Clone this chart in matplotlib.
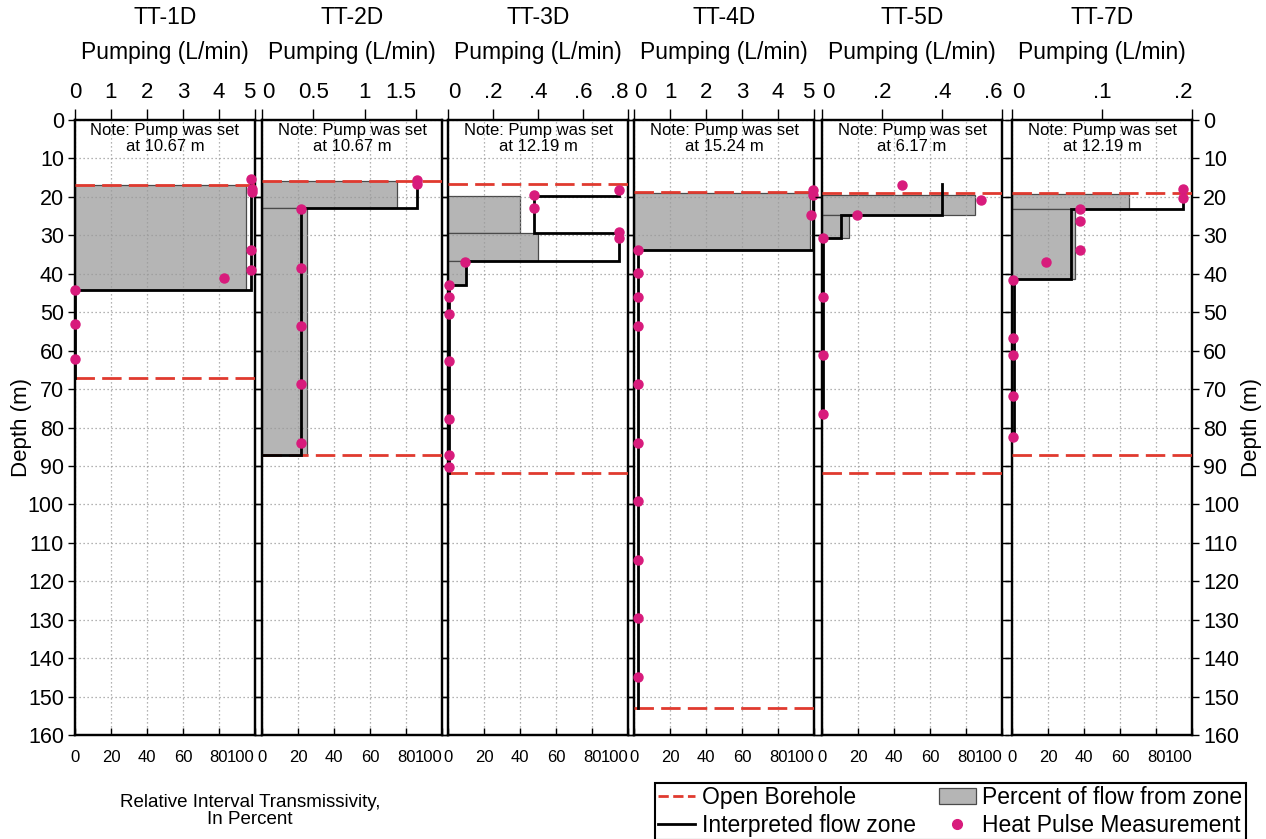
import matplotlib
matplotlib.use('Agg')
import matplotlib.pyplot as plt
import matplotlib.transforms as mtrans
from matplotlib.lines import Line2D
from matplotlib.patches import Patch

plt.rcParams['font.family'] = ['Liberation Sans', 'DejaVu Sans']

# ---------------- data ----------------
wells = ['TT-1D', 'TT-2D', 'TT-3D', 'TT-4D', 'TT-5D', 'TT-7D']
pump_set = ['10.67', '10.67', '12.19', '15.24', '6.17', '12.19']
pump_max = [5, 1.75, 0.8, 5, 0.6, 0.2]
pump_ticks = [[0, 1, 2, 3, 4, 5], [0, 0.5, 1, 1.5], [0, .2, .4, .6, .8],
              [0, 1, 2, 3, 4, 5], [0, .2, .4, .6], [0, .1, .2]]
pump_ticklabels = [['0', '1', '2', '3', '4', '5'], ['0', '0.5', '1', '1.5'],
                   ['0', '.2', '.4', '.6', '.8'], ['0', '1', '2', '3', '4', '5'],
                   ['0', '.2', '.4', '.6'], ['0', '.1', '.2']]
pct_ticks = [0, 20, 40, 60, 80, 100]
depth_ticks = list(range(0, 161, 10))

# open borehole (top, bottom) depth in m
borehole_top = [16.8, 15.8, 16.7, 18.7, 19.1, 18.9]
borehole_bottom = [67.2, 87.2, 91.8, 152.9, 91.8, 87.2]

# percent of flow from zone: tops, bottoms, percent
zone_top = [[16.8], [15.8, 23.0], [19.7, 29.3, 36.7], [19.1], [19.5, 24.7], [19.3, 23.2]]
zone_bottom = [[44.3], [23.0, 87.2], [29.3, 36.7, 43.0], [33.9], [24.7, 30.8], [23.2, 41.4]]
zone_pct = [[95], [75, 25], [40, 50, 10], [98], [85, 15], [65, 35]]

# interpreted flow zone (step line vertices), flow in L/min and depth in m
flow_q = [
    [4.88, 4.88, 0, 0],
    [1.51, 1.51, 0.38, 0.38, 0],
    [0.762, 0.762, 0.384, 0.384, 0.762, 0.762, 0.08, 0.08, 0.005, 0.005],
    [4.96, 4.96, 0.1, 0.1],
    [0.40, 0.40, 0.062, 0.062, 0.004, 0.004],
    [0.19, 0.19, 0.066, 0.066, 0.002, 0.002],
]
flow_d = [
    [15.2, 44.3, 44.3, 67.2],
    [15.2, 23.0, 23.0, 87.2, 87.2],
    [18.2, 19.7, 19.7, 29.3, 29.3, 36.7, 36.7, 43.0, 43.0, 91.8],
    [18.2, 33.9, 33.9, 152.9],
    [16.7, 24.7, 24.7, 30.8, 30.8, 76.8],
    [17.8, 23.2, 23.2, 41.4, 41.4, 82.5],
]

# heat pulse measurements: flow (L/min) and depth (m)
hp_q = [
    [4.88, 4.91, 4.91, 4.88, 4.88, 4.14, 0, 0, 0],
    [1.51, 1.51, 0.38, 0.38, 0.38, 0.38, 0.38],
    [0.762, 0.384, 0.384, 0.762, 0.762, 0.076, 0.005, 0.005, 0.005, 0.005, 0.005, 0.005, 0.005],
    [4.96, 4.96, 4.93, 0.12, 0.1, 0.1, 0.1, 0.1, 0.1, 0.1, 0.1, 0.1, 0.1],
    [0.268, 0.53, 0.116, 0.004, 0.004, 0.004, 0.004],
    [0.19, 0.19, 0.076, 0.076, 0.076, 0.038, 0.001, 0.001, 0.001, 0.001, 0.001],
]
hp_d = [
    [15.4, 18.0, 18.7, 33.7, 38.9, 41.1, 44.3, 53.2, 62.3],
    [15.5, 16.7, 23.1, 38.4, 53.6, 68.8, 84.0],
    [18.2, 19.5, 22.8, 29.1, 30.6, 36.9, 43.0, 46.0, 50.5, 62.8, 77.9, 87.1, 90.2],
    [18.2, 19.5, 24.7, 33.9, 39.9, 46.0, 53.6, 68.8, 84.0, 99.2, 114.4, 129.6, 144.8],
    [16.9, 20.7, 24.6, 30.6, 46.0, 61.2, 76.5],
    [18.0, 20.2, 23.1, 26.2, 33.9, 36.9, 41.5, 56.6, 61.2, 71.9, 82.5],
]

# ---------------- style ----------------
RED = '#e03a2f'
GREY = '#b5b5b5'
MAG = '#d81b7c'
W, H = 1266, 839
lefts = [75, 262, 448, 634, 822, 1012]
pw = 180
top_px, bot_px = 120, 735

fig = plt.figure(figsize=(W / 100, H / 100), dpi=100)
shift_r = mtrans.ScaledTranslation(2 / 100, 0, fig.dpi_scale_trans)
shift_l = mtrans.ScaledTranslation(-2 / 100, 0, fig.dpi_scale_trans)

for i in range(6):
    ax = fig.add_axes([lefts[i] / W, 1 - bot_px / H, pw / W, (bot_px - top_px) / H])
    ax.set_xlim(0, 100)
    ax.set_ylim(160, 0)
    ax.set_xticks(pct_ticks)
    ax.set_xticklabels([str(t) for t in pct_ticks], fontsize=12)
    lbls = ax.get_xticklabels()
    lbls[-1].set_ha('right')
    lbls[-1].set_transform(lbls[-1].get_transform() + shift_r)
    lbls[-2].set_transform(lbls[-2].get_transform() + shift_l)
    ax.set_yticks(depth_ticks)
    ax.tick_params(axis='x', direction='in', length=5, width=1, pad=11)
    ax.tick_params(axis='y', direction='out', length=5, width=1, left=True, right=True,
                   labelleft=(i == 0), labelright=(i == 5), labelsize=15.5, pad=3)
    ax.grid(True, linestyle=(0, (1, 2.2)), color='#9a9a9a', linewidth=0.9)
    ax.set_axisbelow(False)
    for s in ax.spines.values():
        s.set_linewidth(1.6)

    # grey percent-of-flow zones
    tops = zone_top[i]
    bots = zone_bottom[i]
    centers = [(a + b) / 2 for a, b in zip(tops, bots)]
    heights = [b - a for a, b in zip(tops, bots)]
    ax.barh(centers, zone_pct[i], height=heights, left=0, color=GREY,
            edgecolor='#4a4a4a', linewidth=0.9, zorder=1)

    ax2 = ax.twiny()
    ax2.set_xlim(0, pump_max[i])
    ax2.set_ylim(160, 0)
    ax2.set_xticks(pump_ticks[i])
    ax2.set_xticklabels(pump_ticklabels[i], fontsize=16)
    ax2.get_xticklabels()[-1].set_ha('right')
    if i > 0:
        ax2.get_xticklabels()[0].set_ha('left')
    ax2.tick_params(axis='x', direction='out', length=8, width=1, pad=4)
    for s in ax2.spines.values():
        s.set_linewidth(1.6)

    # open borehole
    for d in (borehole_top[i], borehole_bottom[i]):
        ax2.axhline(d, color=RED, linewidth=2.0, dashes=(7, 2.6), zorder=3)
    # interpreted flow zone
    ax2.plot(flow_q[i], flow_d[i], color='black', linewidth=2.0, zorder=4,
             solid_joinstyle='miter', clip_on=False)
    # heat pulse
    ax2.plot(hp_q[i], hp_d[i], 'o', color=MAG, markersize=6.5, zorder=5, clip_on=False)

    ax.text(0.5, 0.995, 'Note: Pump was set\nat %s m' % pump_set[i], transform=ax.transAxes,
            ha='center', va='top', fontsize=12, linespacing=1.1)

    cx = (lefts[i] + pw / 2) / W
    fig.text(cx, 1 - 18 / H, wells[i], ha='center', va='center', fontsize=16.5)
    fig.text(cx, 1 - 52 / H, 'Pumping (L/min)', ha='center', va='center', fontsize=16.5)

fig.text(22 / W, 1 - 427 / H, 'Depth (m)', rotation=90, ha='center', va='center', fontsize=16)
fig.text(1251 / W, 1 - 427 / H, 'Depth (m)', rotation=90, ha='center', va='center', fontsize=16)

fig.text(250 / W, 1 - 811 / H, 'Relative Interval Transmissivity,\nIn Percent',
         ha='center', va='center', fontsize=13.5, linespacing=1.05)

handles = [Line2D([], [], color=RED, linewidth=2.0, linestyle='--'),
           Line2D([], [], color='black', linewidth=2.0),
           Patch(facecolor=GREY, edgecolor='#4a4a4a', linewidth=0.9),
           Line2D([], [], marker='o', linestyle='none', color=MAG, markersize=7)]
labels = ['Open Borehole', 'Interpreted flow zone', 'Percent of flow from zone',
          'Heat Pulse Measurement']
leg = fig.legend(handles, labels, loc='upper left', bbox_to_anchor=(655 / W, 1 - 783 / H),
                 ncol=2, fontsize=16.5, frameon=True, fancybox=False, framealpha=1,
                 edgecolor='black', handlelength=1.6, handletextpad=0.3,
                 columnspacing=1.0, labelspacing=0.2, borderpad=0.15, borderaxespad=0)
leg.get_frame().set_linewidth(1.5)

fig.savefig('out.png', dpi=100)
